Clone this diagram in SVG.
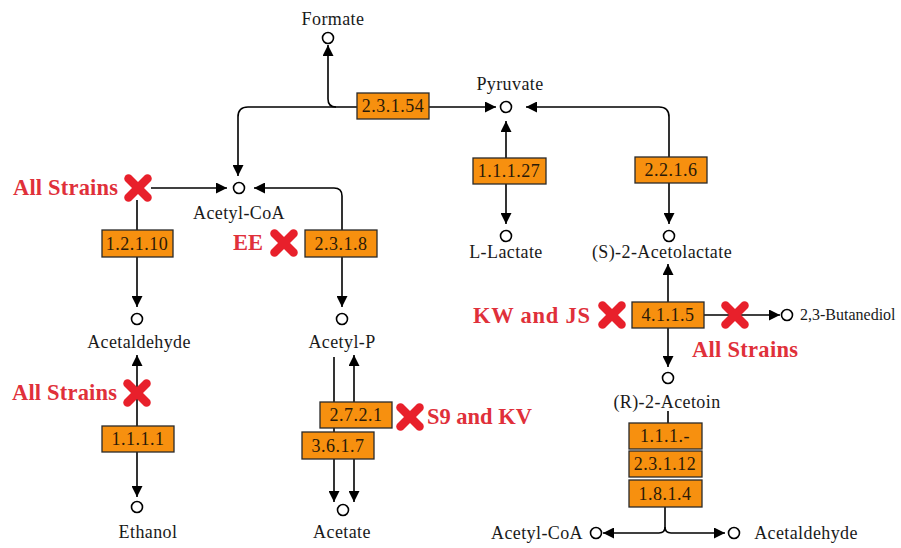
<svg xmlns="http://www.w3.org/2000/svg" width="901" height="548" viewBox="0 0 901 548">
<defs>
<marker id="ah" markerWidth="11" markerHeight="11" refX="11" refY="5.5" orient="auto" markerUnits="userSpaceOnUse">
<path d="M0,0 L11,5.5 L0,11 Z" fill="#000"/>
</marker>
<g id="xm">
<line x1="-9.5" y1="-9.5" x2="9.5" y2="9.5"/>
<line x1="-9.5" y1="9.5" x2="9.5" y2="-9.5"/>
</g>
</defs>
<style>
.bg{fill:#fff}
.c{fill:#fff;stroke:#000;stroke-width:1.6}
.e{fill:#f7900f;stroke:#2a2a2a;stroke-width:1.3}
.et{font-family:"Liberation Serif",serif;font-size:18px;letter-spacing:0.5px;fill:#2a1a08;text-anchor:middle}
.lb{font-family:"Liberation Serif",serif;font-size:18px;letter-spacing:0.4px;fill:#1a1a1a;text-anchor:middle}
.rl{font-family:"Liberation Serif",serif;font-size:22.5px;font-weight:bold;fill:#e0303a}
.ln{fill:none;stroke:#000;stroke-width:1.6}
.x{stroke:#e8202b;stroke-width:8.5;stroke-linecap:round}
</style>
<rect class="bg" x="0" y="0" width="901" height="548"/>

<g id="connectors">
<path class="ln" d="M429,107 H496" marker-end="url(#ah)"/>
<path class="ln" d="M357,107 H248 Q238,107 238,117 V176" marker-end="url(#ah)"/>
<path class="ln" d="M336,107 Q328,107 328,99 V45" marker-end="url(#ah)"/>
<path class="ln" d="M151,188 H227" marker-end="url(#ah)"/>
<path class="ln" d="M137,200 V230"/>
<path class="ln" d="M137,257 V307" marker-end="url(#ah)"/>
<path class="ln" d="M342,230 V196 Q342,188 334,188 H254" marker-end="url(#ah)"/>
<path class="ln" d="M342,257 V307" marker-end="url(#ah)"/>
<path class="ln" d="M137,426 V355" marker-end="url(#ah)"/>
<path class="ln" d="M137,452 V497" marker-end="url(#ah)"/>
<path class="ln" d="M334,357 V502" marker-end="url(#ah)"/>
<path class="ln" d="M354,402 V355" marker-end="url(#ah)"/>
<path class="ln" d="M354,459 V502" marker-end="url(#ah)"/>
<path class="ln" d="M506,158 V121" marker-end="url(#ah)"/>
<path class="ln" d="M506,184 V224" marker-end="url(#ah)"/>
<path class="ln" d="M669,157 V117 Q669,107 659,107 H526" marker-end="url(#ah)"/>
<path class="ln" d="M669,183 V224" marker-end="url(#ah)"/>
<path class="ln" d="M668,302 V264" marker-end="url(#ah)"/>
<path class="ln" d="M668,328 V367" marker-end="url(#ah)"/>
<path class="ln" d="M704,315 H780" marker-end="url(#ah)"/>
<path class="ln" d="M668,411 V423"/>
<path class="ln" d="M665,507 V527 Q665,533 659,533 H603" marker-end="url(#ah)"/>
<path class="ln" d="M665,527 Q665,533 671,533 H725" marker-end="url(#ah)"/>
</g>

<g id="formate"><circle class="c" cx="328" cy="38" r="5.5"/><text class="lb" x="333" y="25">Formate</text></g>
<g id="pyruvate"><circle class="c" cx="506" cy="107" r="5.5"/><text class="lb" x="510" y="90">Pyruvate</text></g>
<g id="acetylcoa"><circle class="c" cx="239" cy="188" r="5.5"/><text class="lb" x="239" y="219">Acetyl-CoA</text></g>
<g id="acetaldehyde"><circle class="c" cx="137" cy="319" r="5.5"/><text class="lb" x="139" y="348">Acetaldehyde</text></g>
<g id="acetylp"><circle class="c" cx="342" cy="319" r="5.5"/><text class="lb" x="342" y="348">Acetyl-P</text></g>
<g id="ethanol"><circle class="c" cx="137" cy="507" r="5.5"/><text class="lb" x="148" y="538">Ethanol</text></g>
<g id="acetate"><circle class="c" cx="343" cy="510" r="5.5"/><text class="lb" x="342" y="538">Acetate</text></g>
<g id="llactate"><circle class="c" cx="506" cy="236" r="5.5"/><text class="lb" x="506" y="258">L-Lactate</text></g>
<g id="acetolactate"><circle class="c" cx="669" cy="236" r="5.5"/><text class="lb" x="662" y="258">(S)-2-Acetolactate</text></g>
<g id="butanediol"><circle class="c" cx="787" cy="315" r="5.5"/><text class="lb" x="800" y="320" style="font-size:16px;letter-spacing:0;text-anchor:start">2,3-Butanediol</text></g>
<g id="acetoin"><circle class="c" cx="668" cy="378" r="5.5"/><text class="lb" x="667" y="408">(R)-2-Acetoin</text></g>
<g id="acetylcoa2"><circle class="c" cx="596" cy="533" r="5.5"/><text class="lb" x="537" y="539">Acetyl-CoA</text></g>
<g id="acetaldehyde2"><circle class="c" cx="734" cy="533" r="5.5"/><text class="lb" x="806" y="539">Acetaldehyde</text></g>

<g id="e2.3.1.54"><rect class="e" x="357" y="93" width="72" height="26"/><text class="et" x="393" y="112">2.3.1.54</text></g>
<g id="e1.2.1.10"><rect class="e" x="102" y="230" width="71" height="27"/><text class="et" x="137" y="250">1.2.1.10</text></g>
<g id="e2.3.1.8"><rect class="e" x="305" y="230" width="72" height="27"/><text class="et" x="341" y="250">2.3.1.8</text></g>
<g id="e1.1.1.27"><rect class="e" x="473" y="158" width="73" height="26"/><text class="et" x="509" y="177">1.1.1.27</text></g>
<g id="e2.2.1.6"><rect class="e" x="635" y="157" width="72" height="26"/><text class="et" x="671" y="176">2.2.1.6</text></g>
<g id="e4.1.1.5"><rect class="e" x="632" y="302" width="72" height="26"/><text class="et" x="668" y="321">4.1.1.5</text></g>
<g id="e1.1.1.1"><rect class="e" x="102" y="426" width="72" height="26"/><text class="et" x="138" y="445">1.1.1.1</text></g>
<g id="e2.7.2.1"><rect class="e" x="320" y="402" width="72" height="26"/><text class="et" x="356" y="421">2.7.2.1</text></g>
<g id="e3.6.1.7"><rect class="e" x="302" y="432" width="72" height="27"/><text class="et" x="338" y="452">3.6.1.7</text></g>
<g id="e1.1.1.-"><rect class="e" x="629" y="423" width="73" height="26"/><text class="et" x="665" y="442">1.1.1.-</text></g>
<g id="e2.3.1.12"><rect class="e" x="629" y="451" width="73" height="26"/><text class="et" x="665" y="470">2.3.1.12</text></g>
<g id="e1.8.1.4"><rect class="e" x="629" y="480" width="73" height="27"/><text class="et" x="665" y="500">1.8.1.4</text></g>

<g id="block1"><use href="#xm" class="x" x="138" y="188"/><text class="rl" x="13" y="195" textLength="105">All Strains</text></g>
<g id="block2"><use href="#xm" class="x" x="284" y="243"/><text class="rl" x="233" y="250" textLength="30">EE</text></g>
<g id="block3"><use href="#xm" class="x" x="137" y="393"/><text class="rl" x="12" y="400" textLength="105">All Strains</text></g>
<g id="block4"><use href="#xm" class="x" x="410" y="417"/><text class="rl" x="427" y="424" textLength="105">S9 and KV</text></g>
<g id="block5"><use href="#xm" class="x" x="612" y="315"/><text class="rl" x="473" y="323" textLength="117">KW and JS</text></g>
<g id="block6"><use href="#xm" class="x" x="735" y="315"/><text class="rl" x="692" y="357" textLength="106">All Strains</text></g>
</svg>
